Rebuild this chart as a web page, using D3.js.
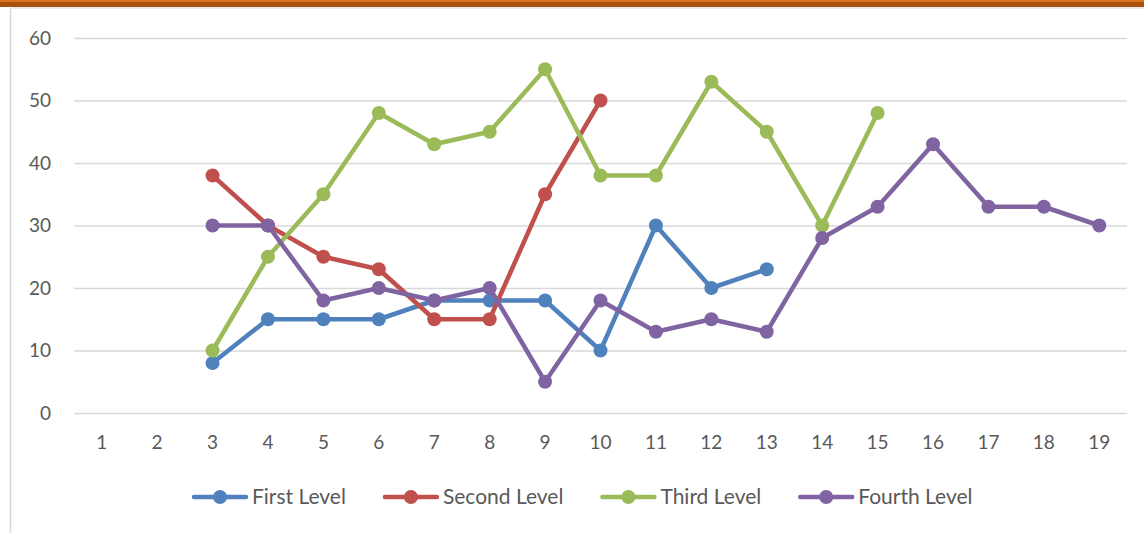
<!DOCTYPE html>
<html>
<head>
<meta charset="utf-8">
<script src="https://cdn.jsdelivr.net/npm/d3@7"></script>
<style>
  body { margin: 0; background: white; }
  svg { display: block; font-family: Lato, "Open Sans", sans-serif; }
</style>
</head>
<body>
<script>
// data
var categories = [1, 2, 3, 4, 5, 6, 7, 8, 9, 10, 11, 12, 13, 14, 15, 16, 17, 18, 19];
var yTicks = [0, 10, 20, 30, 40, 50, 60];
var seriesNames = ["First Level", "Second Level", "Third Level", "Fourth Level"];
var seriesColors = ["#4F81BD", "#C0504D", "#9BBB59", "#8064A2"];
// null = no value for that category
var firstLevel  = [null, null, 8, 15, 15, 15, 18, 18, 18, 10, 30, 20, 23, null, null, null, null, null, null];
var secondLevel = [null, null, 38, 30, 25, 23, 15, 15, 35, 50, null, null, null, null, null, null, null, null, null];
var thirdLevel  = [null, null, 10, 25, 35, 48, 43, 45, 55, 38, 38, 53, 45, 30, 48, null, null, null, null];
var fourthLevel = [null, null, 30, 30, 18, 20, 18, 20, 5, 18, 13, 15, 13, 28, 33, 43, 33, 33, 30];
var allSeries = [firstLevel, secondLevel, thirdLevel, fourthLevel];

var width = 1144, height = 533;
var margin = { top: 38, bottom: 120, left: 74, right: 17 };

var svg = d3.select("body").append("svg")
  .attr("width", width)
  .attr("height", height);

// frame: orange bar on top, thin gray borders
svg.append("rect").attr("x", 0).attr("y", 0).attr("width", width).attr("height", 7).attr("fill", "#a9500d");
svg.append("rect").attr("x", 0).attr("y", 0).attr("width", width).attr("height", 2).attr("fill", "#d9731c");
svg.append("line").attr("x1", 10).attr("x2", width).attr("y1", 8).attr("y2", 8)
  .attr("stroke", "#e3e3e3").attr("stroke-width", 1.5);
svg.append("line").attr("x1", 10.5).attr("x2", 10.5).attr("y1", 8).attr("y2", height)
  .attr("stroke", "#d9d9d9").attr("stroke-width", 1.5);

var xScale = d3.scaleBand()
  .domain(categories)
  .range([margin.left, width - margin.right]);

var yScale = d3.scaleLinear()
  .domain([0, 60])
  .range([height - margin.bottom, margin.top]);

// gridlines
var yAxis = svg.append("g")
  .attr("transform", "translate(" + margin.left + ",0)")
  .call(d3.axisLeft(yScale).tickValues(yTicks)
    .tickSize(-(width - margin.left - margin.right)).tickPadding(23));
yAxis.select(".domain").remove();
yAxis.selectAll(".tick line").attr("stroke", "#d9d9d9").attr("stroke-width", 1.5);
yAxis.selectAll(".tick text").attr("fill", "#595959").style("font-size", "19px")
  .style("font-family", "Lato, 'Open Sans', sans-serif");

var xAxis = svg.append("g")
  .attr("transform", "translate(0," + (height - margin.bottom) + ")")
  .call(d3.axisBottom(xScale).tickSize(0).tickPadding(23));
xAxis.select(".domain").remove();
xAxis.selectAll(".tick text").attr("fill", "#595959").style("font-size", "19px")
  .style("font-family", "Lato, 'Open Sans', sans-serif");

// lines + markers
var line = d3.line()
  .defined(function(d) { return d != null; })
  .x(function(d, i) { return xScale(categories[i]) + xScale.bandwidth() / 2; })
  .y(function(d) { return yScale(d); });

allSeries.forEach(function(values, s) {
  svg.append("path")
    .datum(values)
    .attr("fill", "none")
    .attr("stroke", seriesColors[s])
    .attr("stroke-width", 4.5)
    .attr("stroke-linejoin", "round")
    .attr("stroke-linecap", "round")
    .attr("d", line);

  svg.selectAll(".dot" + s)
    .data(values.map(function(v, i) { return { v: v, c: categories[i] }; })
      .filter(function(d) { return d.v != null; }))
    .enter()
    .append("circle")
    .attr("class", "dot" + s)
    .attr("cx", function(d) { return xScale(d.c) + xScale.bandwidth() / 2; })
    .attr("cy", function(d) { return yScale(d.v); })
    .attr("r", 7)
    .attr("fill", seriesColors[s]);
});

// legend
var legendY = 497;
var legendX = 192;
seriesNames.forEach(function(name, s) {
  var g = svg.append("g").attr("transform", "translate(" + legendX + "," + legendY + ")");
  g.append("line").attr("x1", 2).attr("x2", 54).attr("y1", 0).attr("y2", 0)
    .attr("stroke", seriesColors[s]).attr("stroke-width", 4.5).attr("stroke-linecap", "round");
  g.append("circle").attr("cx", 28).attr("cy", 0).attr("r", 7).attr("fill", seriesColors[s]);
  var t = g.append("text").attr("x", 60).attr("y", 0).attr("dy", "0.35em")
    .attr("fill", "#595959").style("font-size", "21px").text(name);
  legendX += 60 + t.node().getComputedTextLength() + 37;
});
</script>
</body>
</html>
